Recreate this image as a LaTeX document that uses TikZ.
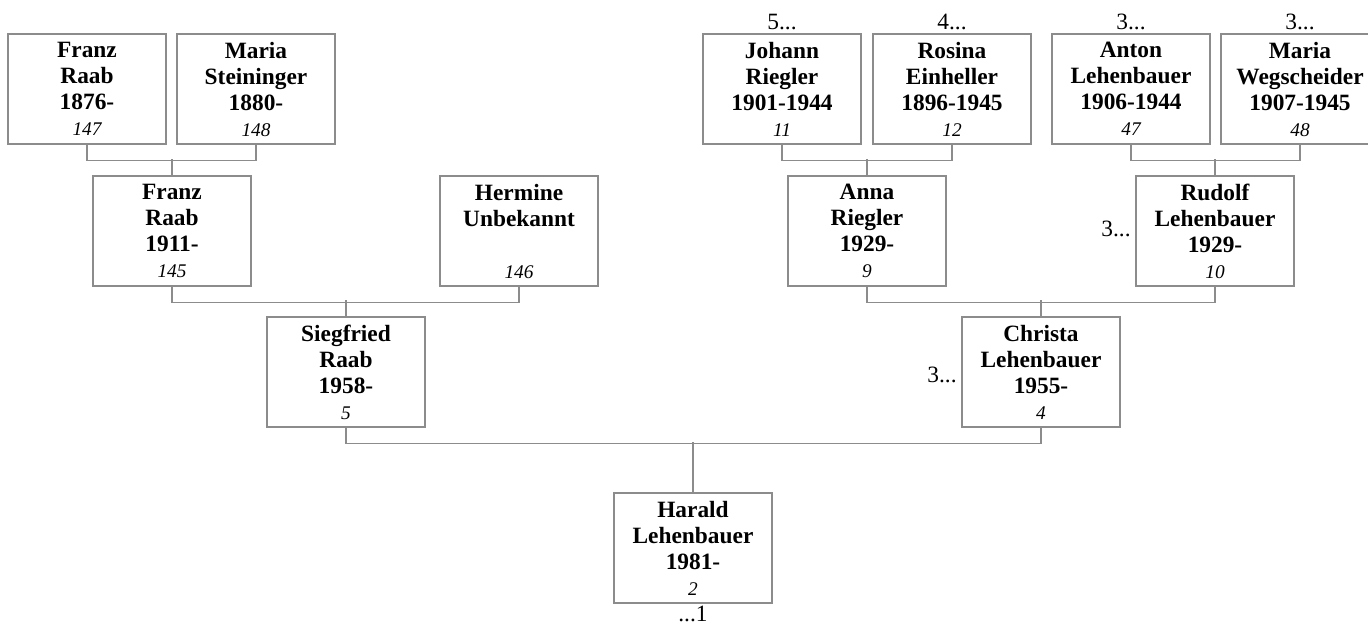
\documentclass[tikz,border=0pt]{standalone}
\usepackage{fontspec}
\setmainfont{Liberation Serif}
\usepackage{tikz}

\definecolor{linegray}{RGB}{140,140,140}
\newcommand{\refnum}[1]{{\fontsize{11}{14.8}\selectfont\mdseries\itshape #1}}

\begin{document}
\begin{tikzpicture}
	 [x=0.02cm,y=-0.02cm,
	  person/.style={draw=linegray,line width=0.8pt,minimum width=3.16cm,minimum height=2.2cm,
	                 inner sep=0pt,align=center,font=\fontsize{13.3}{14.8}\selectfont\bfseries},
	  lab/.style={inner sep=0pt,font=\fontsize{13.3}{14.8}\selectfont},
	  conn/.style={draw=linegray,line width=0.8pt}]

	  \useasboundingbox (0,0) rectangle (1368,625);

	  % great-grandparents
	  \node[person] (p147) at (87,89) {Franz\\Raab\\1876-\\\refnum{147}};
	  \node[person] (p148) at (256,89) {Maria\\Steininger\\1880-\\\refnum{148}};
	  \node[person] (p11) at (782,89) {Johann\\Riegler\\1901-1944\\\refnum{11}};
	  \node[person] (p12) at (952,89) {Rosina\\Einheller\\1896-1945\\\refnum{12}};
	  \node[person] (p47) at (1131,89) {Anton\\Lehenbauer\\1906-1944\\\refnum{47}};
	  \node[person] (p48) at (1300,89) {Maria\\Wegscheider\\1907-1945\\\refnum{48}};

	  % grandparents
	  \node[person] (p145) at (172,231) {Franz\\Raab\\1911-\\\refnum{145}};
	  \node[person] (p146) at (519,231) {Hermine\\Unbekannt\\\mbox{}\\\refnum{146}};
	  \node[person] (p9) at (867,231) {Anna\\Riegler\\1929-\\\refnum{9}};
	  \node[person] (p10) at (1215,231) {Rudolf\\Lehenbauer\\1929-\\\refnum{10}};

	  % parents
	  \node[person] (p5) at (346,372) {Siegfried\\Raab\\1958-\\\refnum{5}};
	  \node[person] (p4) at (1041,372) {Christa\\Lehenbauer\\1955-\\\refnum{4}};

	  \node[person] (p2) at (693,548) {Harald\\Lehenbauer\\1981-\\\refnum{2}};

	\foreach \fa/\mo/\kid in {p147/p148/p145,p11/p12/p9,p47/p48/p10,p145/p146/p5,p9/p10/p4}
    \draw[conn] (\fa.south) -- ++(0,16) -| (\mo.south) (\kid.north) -- ++(0,-16);
	\draw[conn] (p5.south) -- ++(0,16) -| (p4.south) (p2.north) -- ++(0,-50);

	  % continuation marks
	  \node[lab] (c11) at (782,22) {5...};
	  \node[lab] (c12) at (952,22) {4...};
	  \node[lab] (c47) at (1131,22) {3...};
	  \node[lab] (c48) at (1300,22) {3...};
	  \node[lab,anchor=east] (c10) at (1131,229) {3...};
	  \node[lab,anchor=east] (c4) at (957,375) {3...};
	  \node[lab] (c2) at (693,614) {...1};

\end{tikzpicture}
\end{document}
